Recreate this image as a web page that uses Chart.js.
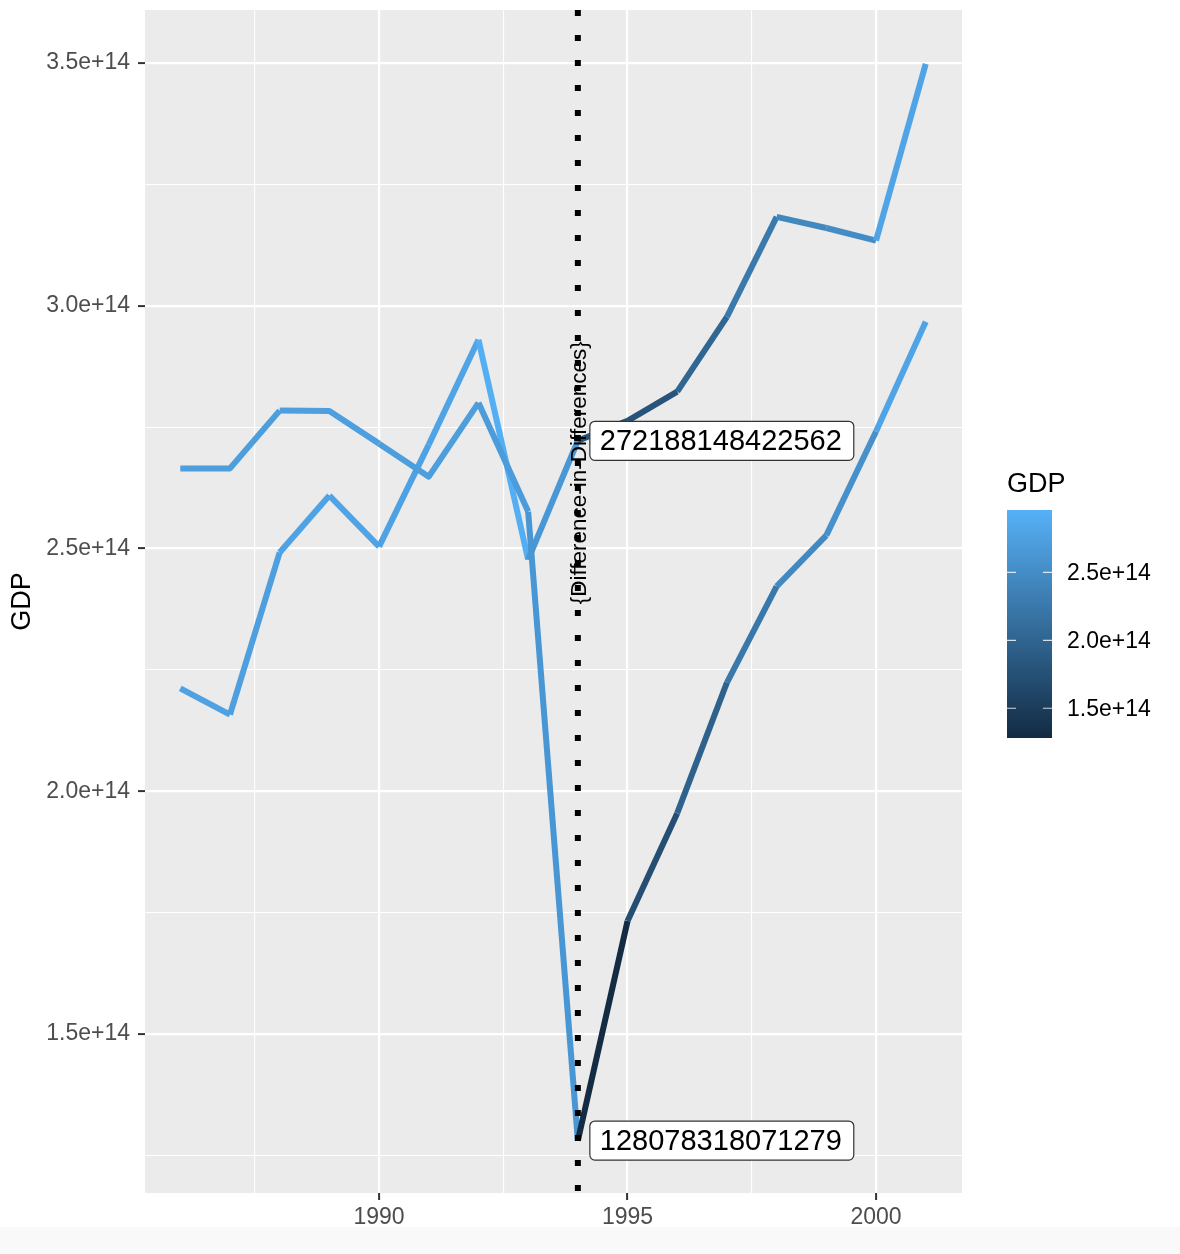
<!DOCTYPE html>
<html>
<head>
<meta charset="utf-8">
<script src="https://cdn.jsdelivr.net/npm/chart.js@4/dist/chart.umd.min.js"></script>
<style>
    html, body { margin: 0; padding: 0; background: #ffffff; }
    #contenedor { width: 1180px; height: 1254px; position: relative; }
</style>
</head>
<body>
<div id="contenedor"><canvas id="graficoGDP"></canvas></div>
<script>
// Datos
const years = [1986, 1987, 1988, 1989, 1990, 1991, 1992, 1993, 1994, 1995, 1996, 1997, 1998, 1999, 2000, 2001];
const gdpTreated = [2.665e14, 2.665e14, 2.784e14, 2.783e14, 2.716e14, 2.648e14, 2.800e14, 2.576e14,
    128078318071279, 1.733e14, 1.955e14, 2.224e14, 2.422e14, 2.527e14, 2.741e14, 2.967e14];
const gdpControl = [2.212e14, 2.158e14, 2.492e14, 2.609e14, 2.504e14, 2.714e14, 2.930e14, 2.477e14,
    272188148422562, 2.763e14, 2.823e14, 2.977e14, 3.183e14, 3.160e14, 3.134e14, 3.498e14];
// valor GDP usado para el color de cada tramo (desde el punto inicial)
const colourTreated = [2.72e14, 2.72e14, 2.74e14, 2.74e14, 2.72e14, 2.72e14, 2.70e14, 2.62e14,
    1.2808e14, 1.72e14, 1.97e14, 2.24e14, 2.46e14, 2.55e14, 2.80e14, 2.90e14];
const colourControl = [2.76e14, 2.74e14, 2.78e14, 2.80e14, 2.76e14, 2.80e14, 2.92e14, 2.64e14,
    1.75e14, 1.80e14, 2.02e14, 2.26e14, 2.44e14, 2.50e14, 2.80e14, 2.90e14];

const yTicks = [1.25e14, 1.5e14, 1.75e14, 2.0e14, 2.25e14, 2.5e14, 2.75e14, 3.0e14, 3.25e14, 3.5e14];
const xTicks = [1987.5, 1990, 1992.5, 1995, 1997.5, 2000];
const legendTicks = [1.5e14, 2.0e14, 2.5e14];
const colourRange = [1.2808e14, 2.96e14];
const treatYear = 1994;
const labelValues = [272188148422562, 128078318071279];
const annotationText = '{Difference-in-Differences}';
const annotationY = 2.656e14;

const FONT = '"Liberation Sans", Arial, Helvetica, sans-serif';
const LOW = [0x13, 0x2B, 0x43];
const HIGH = [0x56, 0xB1, 0xF7];

function colourFor(v) {
    let t = (v - colourRange[0]) / (colourRange[1] - colourRange[0]);
    t = Math.max(0, Math.min(1, t));
    const c = LOW.map((l, i) => Math.round(l + (HIGH[i] - l) * t));
    return `rgb(${c[0]}, ${c[1]}, ${c[2]})`;
}

function isMajorY(v) { return Math.abs(v / 0.5e14 - Math.round(v / 0.5e14)) < 1e-6; }
function isMajorX(v) { return Math.abs(v / 5 - Math.round(v / 5)) < 1e-6; }

// Fondo del panel
const panelFondo = {
    id: 'panelFondo',
    beforeDraw(chart) {
        const { ctx, chartArea: a } = chart;
        ctx.save();
        ctx.fillStyle = '#ebebeb';
        ctx.fillRect(a.left, a.top, a.right - a.left, a.bottom - a.top);
        ctx.fillStyle = '#f9f9f9';
        ctx.fillRect(0, 1227, chart.width, chart.height - 1227);
        ctx.restore();
    }
};

// Texto rotado, línea vertical y etiquetas
const anotaciones = {
    id: 'anotaciones',
    afterDatasetsDraw(chart) {
        const { ctx, chartArea: a, scales } = chart;
        const x0 = scales.x.getPixelForValue(treatYear);
        ctx.save();

        // texto rotado (queda debajo de los puntos de la línea)
        ctx.fillStyle = '#000000';
        ctx.font = `22.5px ${FONT}`;
        ctx.textAlign = 'center';
        ctx.textBaseline = 'middle';
        ctx.save();
        ctx.translate(x0 + 2, scales.y.getPixelForValue(annotationY));
        ctx.rotate(-Math.PI / 2);
        ctx.fillText(annotationText, 0, 0);
        ctx.restore();

        ctx.strokeStyle = '#000000';
        ctx.lineWidth = 6;
        ctx.setLineDash([6, 19]);
        ctx.beginPath();
        ctx.moveTo(x0, a.top);
        ctx.lineTo(x0, a.bottom);
        ctx.stroke();
        ctx.setLineDash([]);

        // etiquetas con caja
        ctx.font = `29px ${FONT}`;
        ctx.textAlign = 'left';
        labelValues.forEach(v => {
            const txt = String(v);
            const yp = scales.y.getPixelForValue(v);
            const w = ctx.measureText(txt).width;
            const bx = x0 + 12, bw = w + 22, bh = 39, by = yp - bh / 2;
            ctx.beginPath();
            ctx.roundRect(bx, by, bw, bh, 5);
            ctx.fillStyle = '#ffffff';
            ctx.fill();
            ctx.lineWidth = 1.2;
            ctx.strokeStyle = '#333333';
            ctx.stroke();
            ctx.fillStyle = '#000000';
            ctx.fillText(txt, bx + 10, yp + 1);
        });
        ctx.restore();
    },
    afterDraw(chart) {
        // leyenda de color (barra de gradiente)
        const { ctx, chartArea: a } = chart;
        const bx = a.right + 45, bw = 45, top = 510, bottom = 738;
        ctx.save();
        const grad = ctx.createLinearGradient(0, bottom, 0, top);
        for (let i = 0; i <= 20; i++) {
            const v = colourRange[0] + (colourRange[1] - colourRange[0]) * i / 20;
            grad.addColorStop(i / 20, colourFor(v));
        }
        ctx.fillStyle = grad;
        ctx.fillRect(bx, top, bw, bottom - top);

        ctx.fillStyle = '#000000';
        ctx.font = `27px ${FONT}`;
        ctx.textAlign = 'left';
        ctx.textBaseline = 'alphabetic';
        ctx.fillText('GDP', bx, 492);

        ctx.font = `23px ${FONT}`;
        ctx.textBaseline = 'middle';
        legendTicks.forEach(v => {
            const t = (v - colourRange[0]) / (colourRange[1] - colourRange[0]);
            const y = bottom - t * (bottom - top);
            ctx.strokeStyle = 'rgba(255,255,255,0.8)';
            ctx.lineWidth = 1.2;
            ctx.beginPath();
            ctx.moveTo(bx, y); ctx.lineTo(bx + 9, y);
            ctx.moveTo(bx + bw - 9, y); ctx.lineTo(bx + bw, y);
            ctx.stroke();
            ctx.fillText((v / 1e14).toFixed(1) + 'e+14', bx + 60, y + 1);
        });
        ctx.restore();
    }
};

function buildDataset(values, colours) {
    return {
        data: years.map((yr, i) => ({ x: yr, y: values[i] })),
        borderWidth: 6,
        borderCapStyle: 'butt',
        borderJoinStyle: 'round',
        pointRadius: 0,
        tension: 0,
        borderColor: colourFor(colours[0]),
        segment: {
            borderColor: ctx => colourFor(colours[ctx.p0DataIndex])
        }
    };
}

const ctx = document.getElementById('graficoGDP').getContext('2d');
window.miGrafico = new Chart(ctx, {
    type: 'line',
    data: {
        datasets: [
            buildDataset(gdpTreated, colourTreated),
            buildDataset(gdpControl, colourControl)
        ]
    },
    options: {
        responsive: true,
        maintainAspectRatio: false,
        animation: false,
        layout: { padding: { top: 10, right: 218, bottom: 0, left: 0 } },
        plugins: {
            legend: { display: false },
            tooltip: { enabled: false }
        },
        scales: {
            x: {
                type: 'linear',
                min: 1985.29,
                max: 2001.73,
                afterBuildTicks: scale => { scale.ticks = xTicks.map(v => ({ value: v })); },
                afterFit: scale => {
                    scale.height = 61;
                    scale.paddingLeft = 0;
                    scale.paddingRight = 0;
                },
                border: { display: false },
                grid: {
                    color: '#ffffff',
                    lineWidth: c => isMajorX(c.tick.value) ? 2.2 : 1.1,
                    tickColor: c => isMajorX(c.tick.value) ? '#333333' : 'rgba(0,0,0,0)',
                    tickLength: 7,
                    tickWidth: 2
                },
                ticks: {
                    autoSkip: false,
                    maxRotation: 0,
                    padding: 4,
                    color: '#4d4d4d',
                    font: { family: FONT, size: 23 },
                    callback: v => isMajorX(v) ? String(v) : ''
                }
            },
            y: {
                min: 1.1728e14,
                max: 3.609e14,
                afterBuildTicks: scale => { scale.ticks = yTicks.map(v => ({ value: v })); },
                afterFit: scale => {
                    scale.width = 145;
                    scale.paddingTop = 0;
                    scale.paddingBottom = 0;
                },
                border: { display: false },
                grid: {
                    color: '#ffffff',
                    lineWidth: c => isMajorY(c.tick.value) ? 2.2 : 1.1,
                    tickColor: c => isMajorY(c.tick.value) ? '#333333' : 'rgba(0,0,0,0)',
                    tickLength: 7,
                    tickWidth: 2
                },
                ticks: {
                    autoSkip: false,
                    padding: 8,
                    color: '#4d4d4d',
                    font: { family: FONT, size: 23 },
                    callback: v => isMajorY(v) ? (v / 1e14).toFixed(1) + 'e+14' : ''
                },
                title: {
                    display: true,
                    text: 'GDP',
                    color: '#000000',
                    padding: { top: 6, bottom: 0 },
                    font: { family: FONT, size: 27 }
                }
            }
        }
    },
    plugins: [panelFondo, anotaciones]
});
</script>
</body>
</html>
